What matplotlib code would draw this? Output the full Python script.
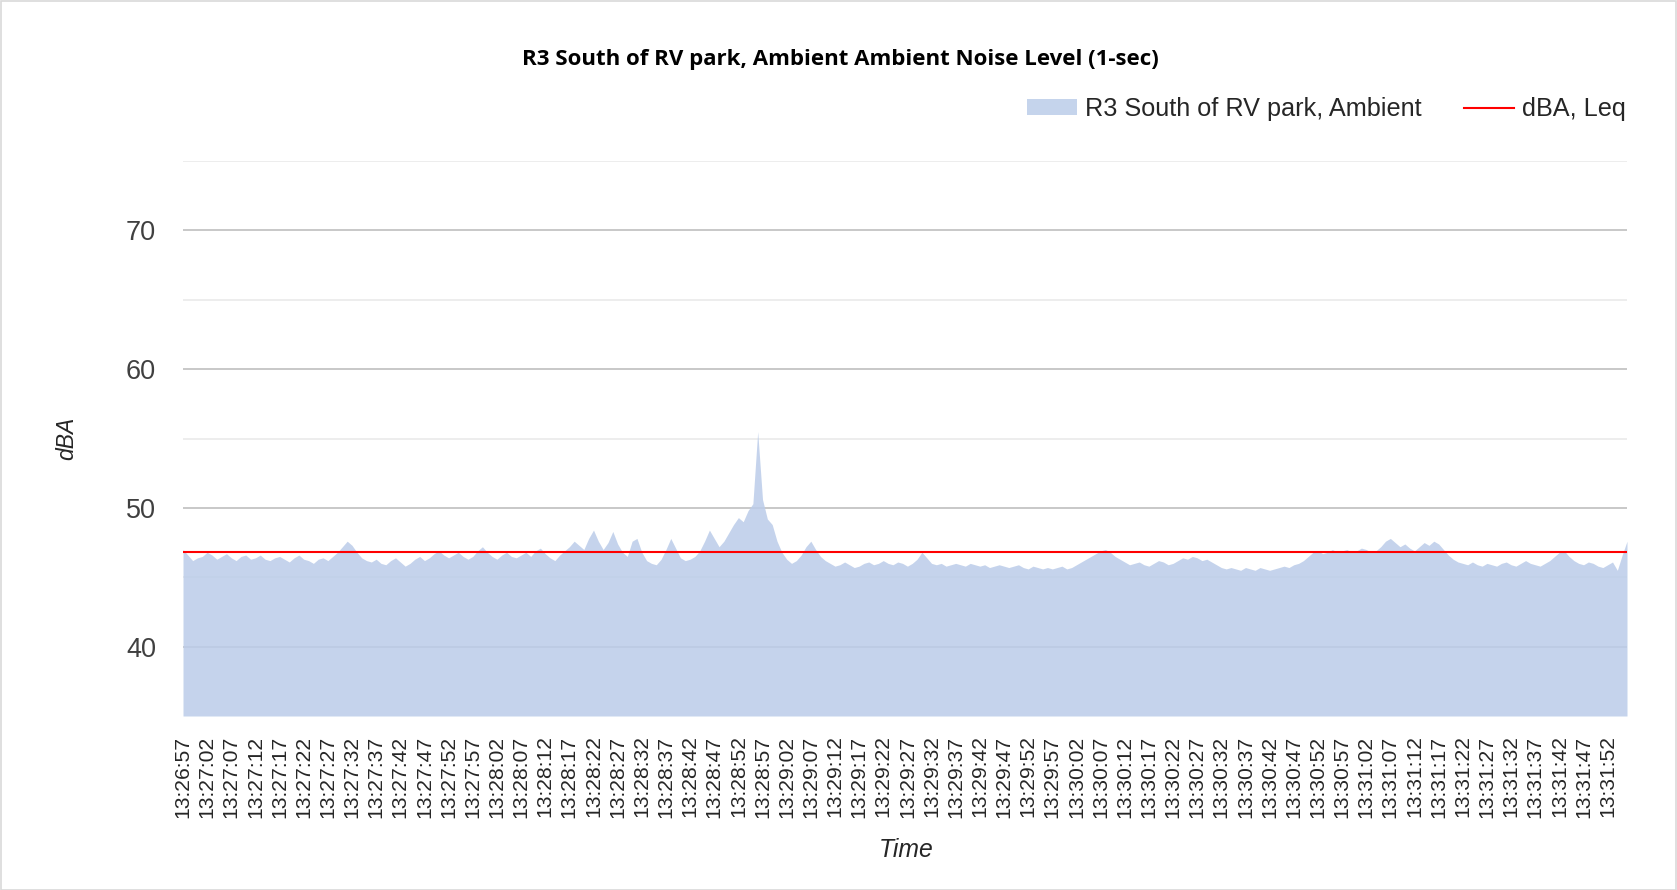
import matplotlib
matplotlib.use("Agg")
import matplotlib.pyplot as plt
import pandas as pd
import numpy as np
from matplotlib.patches import Rectangle, Patch
from matplotlib.lines import Line2D

title = "R3 South of RV park, Ambient Ambient Noise Level (1-sec)"
series_name = "R3 South of RV park, Ambient"
leq_name = "dBA, Leq"
start_time = "13:26:57"
leq_value = 46.8

levels = [
    47.0, 46.6, 46.2, 46.4, 46.5, 46.8, 46.6, 46.3, 46.5, 46.7, 46.4, 46.2, 46.5, 46.6, 46.3, 46.4, 46.6, 46.3, 46.2, 46.4,
    46.5, 46.3, 46.1, 46.4, 46.6, 46.3, 46.2, 46.0, 46.3, 46.4, 46.2, 46.5, 46.8, 47.2, 47.6, 47.3, 46.8, 46.4, 46.2, 46.1,
    46.3, 46.0, 45.9, 46.2, 46.4, 46.1, 45.8, 46.0, 46.3, 46.5, 46.2, 46.4, 46.7, 46.9, 46.6, 46.4, 46.6, 46.8, 46.5, 46.3,
    46.5, 46.9, 47.2, 46.8, 46.5, 46.3, 46.6, 46.8, 46.5, 46.4, 46.6, 46.8, 46.5, 46.9, 47.1, 46.7, 46.4, 46.2, 46.6, 46.9,
    47.2, 47.6, 47.3, 47.0, 47.8, 48.4, 47.6, 47.0, 47.5, 48.3, 47.4, 46.8, 46.5, 47.6, 47.8, 46.8, 46.2, 46.0, 45.9, 46.3,
    47.0, 47.8, 47.1, 46.4, 46.2, 46.3, 46.5, 46.9, 47.6, 48.4, 47.8, 47.2, 47.6, 48.2, 48.8, 49.3, 49.0, 49.8, 50.3, 55.5,
    50.6, 49.2, 48.8, 47.6, 46.8, 46.3, 46.0, 46.2, 46.6, 47.2, 47.6, 47.0, 46.5, 46.2, 46.0, 45.8, 45.9, 46.1, 45.9, 45.7,
    45.8, 46.0, 46.1, 45.9, 46.0, 46.2, 46.0, 45.9, 46.1, 46.0, 45.8, 46.0, 46.3, 46.8, 46.4, 46.0, 45.9, 46.0, 45.8, 45.9,
    46.0, 45.9, 45.8, 46.0, 45.9, 45.8, 45.9, 45.7, 45.8, 45.9, 45.8, 45.7, 45.8, 45.9, 45.7, 45.6, 45.8, 45.7, 45.6, 45.7,
    45.6, 45.7, 45.8, 45.6, 45.7, 45.9, 46.1, 46.3, 46.5, 46.7, 46.9, 47.0, 46.8, 46.5, 46.3, 46.1, 45.9, 46.0, 46.1, 45.9,
    45.8, 46.0, 46.2, 46.1, 45.9, 46.0, 46.2, 46.4, 46.3, 46.5, 46.4, 46.2, 46.3, 46.1, 45.9, 45.7, 45.6, 45.7, 45.6, 45.5,
    45.7, 45.6, 45.5, 45.7, 45.6, 45.5, 45.6, 45.7, 45.8, 45.7, 45.9, 46.0, 46.2, 46.5, 46.8, 46.9, 46.7, 46.8, 47.0, 46.8,
    46.9, 47.0, 46.8, 46.9, 47.1, 47.0, 46.8, 46.9, 47.2, 47.6, 47.8, 47.5, 47.2, 47.4, 47.1, 46.9, 47.2, 47.5, 47.3, 47.6,
    47.4, 47.0, 46.6, 46.3, 46.1, 46.0, 45.9, 46.1, 45.9, 45.8, 46.0, 45.9, 45.8, 46.0, 46.1, 45.9, 45.8, 46.0, 46.2, 46.0,
    45.9, 45.8, 46.0, 46.2, 46.5, 46.8, 46.9, 46.5, 46.2, 46.0, 45.9, 46.1, 46.0, 45.8, 45.7, 45.9, 46.1, 45.5, 46.6, 47.6,
]

times = pd.date_range("2000-01-01 " + start_time, periods=len(levels), freq="1s")
time_labels = [t.strftime("%H:%M:%S") for t in times]
x = np.arange(len(levels))

W, H = 1677, 890
fig = plt.figure(figsize=(W / 100, H / 100), dpi=100)
fig.patch.set_facecolor("white")
fig.add_artist(Rectangle((0.5 / W, 0.5 / H), 1 - 1.5 / W, 1 - 1.5 / H, transform=fig.transFigure,
                         fill=False, edgecolor="#d9d9d9", linewidth=1.2))

ax = fig.add_axes([183 / W, 1 - 716 / H, (1627 - 183) / W, (716 - 161) / H])
ax.set_xlim(0, len(levels) - 1)
ax.set_ylim(35, 75)

area_color = "#bbcce9"
ax.fill_between(x, 35, levels, color=area_color, alpha=0.85, linewidth=0, zorder=2)
ax.axhline(leq_value, color="#ff0000", linewidth=1.5, zorder=4)

for v in [40, 50, 60, 70]:
    ax.axhline(v, color="#c4c4c4", linewidth=1.3, zorder=1)
for v in [45, 55, 65, 75]:
    ax.axhline(v, color="#ececec", linewidth=1.3, zorder=1)

for s in ax.spines.values():
    s.set_visible(False)

ax.set_yticks([40, 50, 60, 70])
ax.set_yticklabels(["40", "50", "60", "70"])
ax.set_xticks(x[::5])
ax.set_xticklabels(time_labels[::5], rotation=90)
ax.tick_params(axis="y", length=0, pad=19.5, labelsize=19.5, labelcolor="#404040")
ax.tick_params(axis="x", length=0, pad=14, labelsize=15.2, labelcolor="#262626")
for lab in ax.get_xticklabels() + ax.get_yticklabels():
    lab.set_family("Liberation Sans")

fig.text(67 / W, 1 - 438 / H, "dBA", rotation=90, ha="center", va="center",
         fontsize=16.5, style="italic", family="Liberation Sans", color="#262626")
fig.text(906 / W, 1 - 850 / H, "Time", ha="center", va="center",
         fontsize=17.8, style="italic", family="Liberation Sans", color="#262626")
fig.text(840 / W, 1 - 59 / H, title, ha="center", va="center",
         fontsize=16, fontweight="bold", family="Open Sans", color="#000000")

handles = [Patch(facecolor="#c5d4ec", edgecolor="none"),
           Line2D([], [], color="#ff0000", linewidth=1.5)]
leg = fig.legend(handles, [series_name, leq_name], loc="center right",
                 bbox_to_anchor=(1644 / W, 1 - 109 / H), ncol=2, frameon=False,
                 prop={"family": "Liberation Sans", "size": 18.2},
                 handlelength=1.95, handleheight=0.6, columnspacing=1.67, handletextpad=0.35,
                 borderpad=0.2)
for t in leg.get_texts():
    t.set_color("#262626")

fig.savefig("out.png", dpi=100, facecolor="white")
